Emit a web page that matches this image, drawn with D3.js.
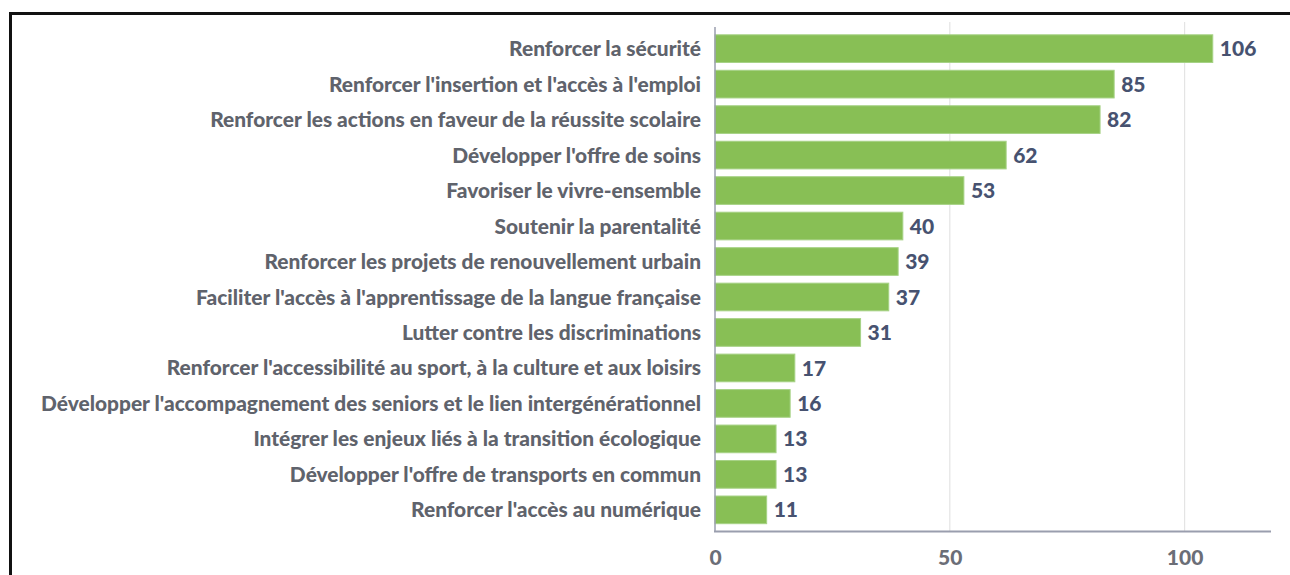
<!DOCTYPE html>
<html>
<head>
<meta charset="utf-8">
<script src="https://cdn.jsdelivr.net/npm/d3@7"></script>
<style>
  html, body { margin: 0; padding: 0; background: #ffffff; }
  svg { display: block; }
  text { font-family: Lato, "Open Sans", sans-serif; font-weight: 900; }
</style>
</head>
<body>
<svg id="chart" width="1290" height="575"></svg>
<script>
const categories = [
  "Renforcer la sécurité",
  "Renforcer l'insertion et l'accès à l'emploi",
  "Renforcer les actions en faveur de la réussite scolaire",
  "Développer l'offre de soins",
  "Favoriser le vivre-ensemble",
  "Soutenir la parentalité",
  "Renforcer les projets de renouvellement urbain",
  "Faciliter l'accès à l'apprentissage de la langue française",
  "Lutter contre les discriminations",
  "Renforcer l'accessibilité au sport, à la culture et aux loisirs",
  "Développer l'accompagnement des seniors et le lien intergénérationnel",
  "Intégrer les enjeux liés à la transition écologique",
  "Développer l'offre de transports en commun",
  "Renforcer l'accès au numérique"
];
const values = [106, 85, 82, 62, 53, 40, 39, 37, 31, 17, 16, 13, 13, 11];
const tickValues = [0, 50, 100];

const svg = d3.select("#chart");

svg.append("rect")
  .attr("x", 10.5).attr("y", 13.5)
  .attr("width", 1300).attr("height", 600)
  .attr("fill", "none").attr("stroke", "#111").attr("stroke-width", 3);

const x0 = 715, x1 = 1271;
const yTop = 27, yBot = 531.5;

const x = d3.scaleLinear().domain([0, 118.4]).range([x0, x1]);
const y = d3.scaleBand().domain(categories).range([yTop, yBot])
  .paddingInner(0.22).paddingOuter(0.22);

svg.append("g").selectAll("line")
  .data(tickValues.filter(d => d > 0))
  .join("line")
  .attr("x1", d => x(d)).attr("x2", d => x(d))
  .attr("y1", 22).attr("y2", yBot)
  .attr("stroke", "#e4e4e4").attr("stroke-width", 1.2);

svg.append("g").selectAll("rect")
  .data(values)
  .join("rect")
  .attr("x", x(0))
  .attr("y", (d, i) => y(categories[i]))
  .attr("width", d => x(d) - x(0))
  .attr("height", y.bandwidth())
  .attr("fill", "#88bf55")
  .attr("stroke", "#a6d285")
  .attr("stroke-width", 1);

svg.append("g").selectAll("text")
  .data(values)
  .join("text")
  .attr("x", d => x(d) + 7)
  .attr("y", (d, i) => y(categories[i]) + y.bandwidth() / 2)
  .attr("dy", "0.36em")
  .attr("font-size", 21)
  .attr("fill", "#475270")
  .text(d => d);

svg.append("g").selectAll("text")
  .data(categories)
  .join("text")
  .attr("x", x0 - 14)
  .attr("y", d => y(d) + y.bandwidth() / 2)
  .attr("dy", "0.36em")
  .attr("text-anchor", "end")
  .attr("font-size", 20.9)
  .attr("fill", "#5f636c")
  .text(d => d);

svg.append("line")
  .attr("x1", x0).attr("x2", x0)
  .attr("y1", yTop).attr("y2", yBot)
  .attr("stroke", "#9a9eae").attr("stroke-width", 1.5);
svg.append("line")
  .attr("x1", x0 - 1).attr("x2", x1)
  .attr("y1", yBot).attr("y2", yBot)
  .attr("stroke", "#9a9eae").attr("stroke-width", 2);

const axis = d3.axisBottom(x).tickValues(tickValues).tickSize(0).tickPadding(0);
const gAxis = svg.append("g").attr("transform", `translate(0,${yBot})`).call(axis);
gAxis.select(".domain").remove();
gAxis.selectAll("text")
  .attr("y", 26)
  .attr("dy", "0.36em")
  .attr("font-family", "Lato, sans-serif")
  .attr("font-weight", 900)
  .attr("font-size", 21)
  .attr("fill", "#6b6e77");
</script>
</body>
</html>
